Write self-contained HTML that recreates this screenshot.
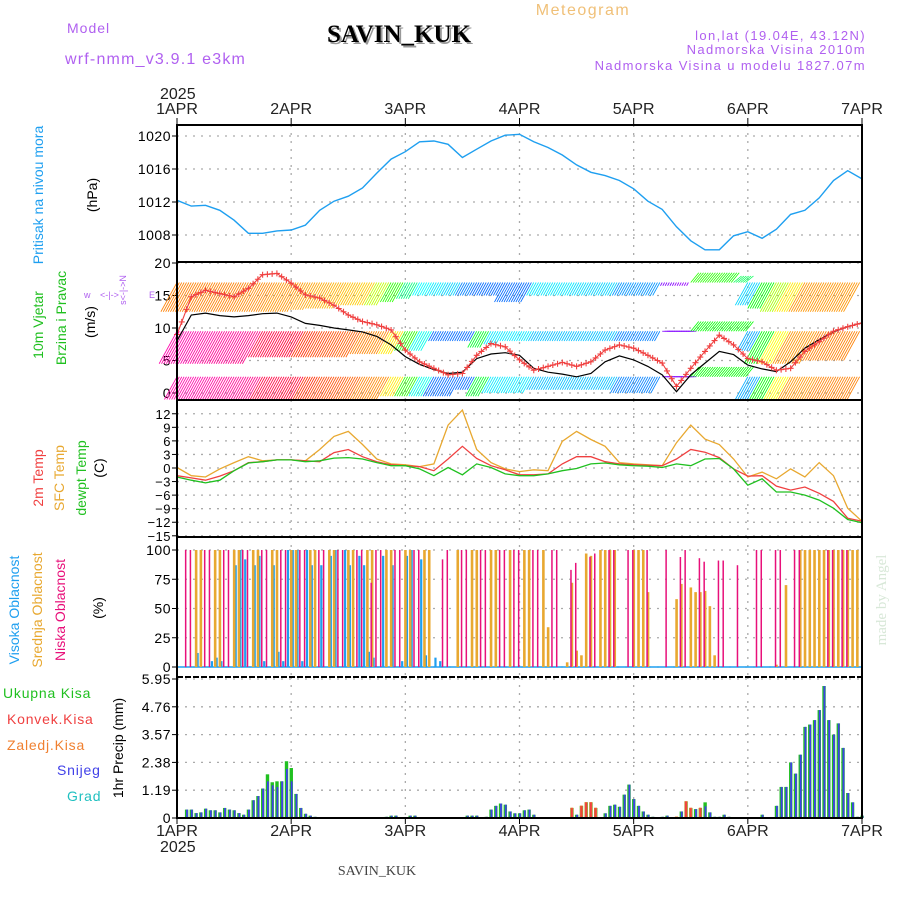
<!DOCTYPE html>
<html><head><meta charset="utf-8"><style>
body{margin:0;background:#fff;}
svg{display:block;font-family:"Liberation Sans",sans-serif;}
</style></head><body>
<svg id="chart" width="900" height="900" viewBox="0 0 900 900" xmlns="http://www.w3.org/2000/svg">
<text x="583" y="15" font-size="16" fill="#f0c078" text-anchor="middle" letter-spacing="1.5">Meteogram</text>
<text x="67" y="33" font-size="14" fill="#b060f0" letter-spacing="1">Model</text>
<text x="401" y="44" font-size="25" font-weight="bold" fill="#999" text-anchor="middle" font-family="Liberation Serif, serif">SAVIN_KUK</text>
<text x="399" y="42" font-size="25" font-weight="bold" fill="#000" text-anchor="middle" font-family="Liberation Serif, serif">SAVIN_KUK</text>
<text x="65" y="64" font-size="16" fill="#b060f0" letter-spacing="1.2">wrf-nmm_v3.9.1 e3km</text>
<text x="866" y="40" font-size="13" fill="#b060f0" text-anchor="end" letter-spacing="1.4">lon,lat (19.04E, 43.12N)</text>
<text x="866" y="54" font-size="13" fill="#b060f0" text-anchor="end" letter-spacing="1.4">Nadmorska Visina 2010m</text>
<text x="866" y="70" font-size="13" fill="#b060f0" text-anchor="end" letter-spacing="1.4">Nadmorska Visina u modelu 1827.07m</text>
<text x="160" y="99" font-size="16" fill="#222">2025</text>
<text x="160" y="852" font-size="16" fill="#222">2025</text>
<text x="377" y="875" font-size="14" fill="#444" text-anchor="middle" font-family="Liberation Serif, serif">SAVIN_KUK</text>
<text transform="translate(886,600) rotate(-90)" font-size="15" fill="#d8e8d8" text-anchor="middle" font-family="Liberation Serif, serif">made by Angel</text>
<text transform="translate(43,195) rotate(-90)" font-size="14" fill="#1e9ff0" text-anchor="middle">Pritisak na nivou mora</text>
<text transform="translate(97,195) rotate(-90)" font-size="14" fill="#000" text-anchor="middle">(hPa)</text>
<text transform="translate(43,325) rotate(-90)" font-size="14" fill="#20c020" text-anchor="middle">10m Vjetar</text>
<text transform="translate(66,318) rotate(-90)" font-size="14" fill="#20c020" text-anchor="middle">Brzina i Pravac</text>
<text transform="translate(95,322) rotate(-90)" font-size="14" fill="#000" text-anchor="middle">(m/s)</text>
<g fill="#b060f0" font-size="9">
<text x="84" y="298">w</text>
<text x="100" y="298">&lt;-|-&gt;</text>
<text x="149" y="298">E</text>
<text transform="translate(126,290) rotate(-90)" text-anchor="middle">s&lt;-|-&gt;N</text>
</g>
<text transform="translate(43,478) rotate(-90)" font-size="14" fill="#f04040" text-anchor="middle">2m Temp</text>
<text transform="translate(64,478) rotate(-90)" font-size="14" fill="#e8a830" text-anchor="middle">SFC Temp</text>
<text transform="translate(86,478) rotate(-90)" font-size="14" fill="#20c020" text-anchor="middle">dewpt Temp</text>
<text transform="translate(104,468) rotate(-90)" font-size="14" fill="#000" text-anchor="middle">(C)</text>
<text transform="translate(19,610) rotate(-90)" font-size="14" fill="#1e9ff0" text-anchor="middle">Visoka Oblacnost</text>
<text transform="translate(42,610) rotate(-90)" font-size="14" fill="#e8a830" text-anchor="middle">Srednja Oblacnost</text>
<text transform="translate(65,610) rotate(-90)" font-size="14" fill="#e8107a" text-anchor="middle">Niska Oblacnost</text>
<text transform="translate(103,608) rotate(-90)" font-size="14" fill="#000" text-anchor="middle">(%)</text>
<text x="3" y="698" font-size="14" fill="#20c020" letter-spacing="0.8">Ukupna  Kisa</text>
<text x="7" y="724" font-size="14" fill="#f04040" letter-spacing="0.8">Konvek.Kisa</text>
<text x="7" y="750" font-size="14" fill="#f08030" letter-spacing="0.8">Zaledj.Kisa</text>
<text x="57" y="775" font-size="14" fill="#4040e8" letter-spacing="0.8">Snijeg</text>
<text x="67" y="801" font-size="14" fill="#20c0c0" letter-spacing="0.8">Grad</text>
<text transform="translate(123,748) rotate(-90)" font-size="14" fill="#000" text-anchor="middle">1hr Precip (mm)</text>
<g id="plot"></g>
</svg>
<script>
const dayLabels = ["1APR","2APR","3APR","4APR","5APR","6APR","7APR"];
const pressTicks = [1020,1016,1012,1008];
const windTicks = [20,15,10,5,0];
const tempTicks = [12,9,6,3,0,-3,-6,-9,-12,-15];
const cloudTicks = [100,75,50,25,0];
const precipTicks = [5.95,4.76,3.57,2.38,1.19,0];
const pressure = [1012.2,1011.5,1011.6,1011,1009.8,1008.2,1008.2,1008.5,1008.6,1009.2,1011,1012.1,1012.7,1013.7,1015.5,1017.2,1018.1,1019.3,1019.4,1019,1017.4,1018.4,1019.4,1020.1,1020.2,1019.3,1018.6,1017.7,1016.5,1015.6,1015.2,1014.6,1013.6,1012.1,1011.1,1009,1007.3,1006.2,1006.2,1007.9,1008.4,1007.6,1008.7,1010.5,1011,1012.5,1014.6,1015.8,1014.8];
const windSpeed = [8,12.0,12.3,11.9,11.7,11.9,12.2,12.3,11.7,10.7,10.4,10.0,9.7,9.4,8.7,7.4,5.6,4.4,3.6,3.0,3.2,5.3,6.0,6.2,5.8,3.8,3.2,2.9,2.5,3.0,4.8,5.7,5.1,4.1,2.8,0.2,2.8,4.6,6.4,5.9,4.3,3.7,3.3,4.8,6.9,8.2,9.4,10.2,10.8];
const windGust = [9.0,14.8,15.8,15.3,14.8,16.1,18.2,18.4,16.9,15.1,14.6,13.5,12.0,11.0,10.5,9.7,6.6,4.8,3.8,2.8,3.0,5.8,7.6,7.1,5.1,3.5,4.1,4.7,4.1,4.8,6.6,7.4,6.9,5.8,4.6,1.0,3.8,6.4,8.9,7.4,5.3,4.8,3.5,3.8,6.4,7.9,9.5,10.2,10.8];
const rowAHue = [30,30,30,30,30,32,32,35,35,38,40,42,45,48,75,110,150,180,185,190,210,215,215,215,215,185,185,185,188,190,190,205,205,205,270,275,110,110,115,140,190,120,80,55,35,35,35,35,35];
const rowATip = [12.5,12.5,12.5,12.5,12.5,12.5,12.5,12.5,12.5,12.8,13,13,13.5,13.5,13.5,14,14.5,15,15,15,15,15,15,14,14,15,15,15,15,15,15,15,15,15,16.5,16.5,18.5,18.5,18.5,18,13.5,13,12.5,12.5,12.5,12.5,12.5,12.5,12.5];
const rowBHue = [320,320,322,325,325,328,345,345,348,10,15,18,22,30,32,55,110,175,215,215,215,130,185,185,185,195,195,195,195,195,195,210,210,210,270,270,120,120,120,120,200,120,60,35,35,30,30,30,30];
const rowBTip = [4.5,4.5,4.5,4.5,4.5,4.5,5.5,5.5,5.5,5.5,5.5,5.5,5.5,6,6,6,6.5,6.5,8,8,8,7,7.5,8,8,8,8,8,8,8,8,8,8,8,9.5,9.5,11,11,11,11,6.5,4.5,4.5,4.5,4.5,5,5,5,5];
const rowCTip = [-1,-1,-1,-1,-1,-1,-1,-1,-1,-1,-1,-1,-1,-1,-1,-0.5,-0.5,-0.5,-0.5,-0.5,0.5,-0.5,0,0,0,0.5,0.5,0.5,0.5,0.5,0.5,0,0,0,2.5,2.5,4,4,4,4,-1,-1,-1,-1,-1,-1,-1,-1,-1];
const temp2m = [-1.7,-2.2,-2.7,-1.8,-0.6,1.2,1.4,1.8,1.8,1.6,1.4,3.4,4.1,2.5,1.4,0.7,0.5,0.3,-0.6,2.0,4.8,2.1,0.5,-0.4,-1.5,-1.5,-1.3,0.9,2.5,2.5,1.4,0.9,0.7,0.6,0.5,2.0,4.1,3.5,2.3,-0.2,-1.8,-1.7,-4.0,-4.9,-4.2,-5.6,-7.4,-11.1,-11.8];
const tempSfc = [0.1,-1.7,-2.0,-0.2,1.2,2.5,1.6,1.8,1.8,1.6,4.1,7.0,8.1,5.2,2.0,0.9,0.7,0.3,0.9,9.5,12.8,4.1,1.2,-0.2,-0.8,-0.4,-0.6,5.9,8.1,6.3,4.8,1.2,0.9,0.7,0.5,5.6,9.5,6.4,5.2,2.0,-2.0,-0.9,-2.4,-0.2,-2.0,1.2,-1.7,-8.9,-11.8];
const dewpt = [-2.0,-2.7,-3.3,-2.7,-0.6,1.1,1.4,1.8,1.8,1.4,1.6,2.2,2.3,2.0,1.2,0.5,0.5,-0.2,-1.7,0.1,-1.5,0.9,0.1,-1.3,-1.7,-1.7,-1.3,-0.6,-0.1,0.9,1.1,0.7,0.5,0.4,0.1,0.9,0.5,2.0,2.1,-0.2,-3.8,-2.4,-5.3,-5.3,-6.0,-7.1,-8.9,-11.4,-12.1];
const cloudHigh = [0,0,0,0,12,0,0,5,8,5,0,0, 87,100,92,0,87,95,5,0,87,13,5,100, 100,100,5,100,87,0,87,0,95,100,0,100, 87,0,95,87,13,8,0,95,0,87,0,5, 95,100,0,92,10,0,8,5,0,0,0,0, 0,0,0,0,0,0,0,0,0,0,0,0, 0,0,0,0,0,0,0,0,0,0,0,0, 0,0,0,0,0,0,0,0,0,0,0,0, 0,0,0,0,0,0,0,0,0,0,0,0, 0,0,0,0,0,0,0,0,0,0,0,0, 0,0,0,0,0,0,0,0,0,0,0,0, 0,0,0,0,0,0,0,0,0,0,0,0, 0];
const cloudMid = [0,0,0,0,100,100,0,0,100,100,0,0, 100,100,0,0,100,100,0,0,100,100,0,0, 100,100,0,0,100,100,0,0,100,100,0,0, 100,100,0,0,100,100,0,0,100,100,0,0, 100,100,0,0,100,100,0,0,0,0,0,100, 0,0,100,100,0,0,100,100,0,0,100,0, 0,100,100,0,0,100,34,0,0,0,4,72, 14,10,97,95,0,100,100,100,100,0,0,0, 100,100,100,64,0,0,0,0,0,58,71,0, 68,64,64,65,52,10,0,0,0,0,0,0, 0,0,0,0,0,0,2,0,70,0,0,100, 100,100,100,100,100,100,100,100,100,100,100,100, 0];
const cloudLow = [0,0,100,100,0,0,100,100,0,0,100,100, 0,0,100,100,0,0,100,100,0,0,100,100, 0,0,100,100,0,0,100,100,0,0,100,100, 0,0,100,100,0,72,100,100,0,0,100,100, 0,0,100,100,0,0,0,0,92,100,0,0, 100,100,0,0,100,100,0,0,100,100,0,100, 100,0,0,100,100,0,0,100,100,0,0,83, 89,0,0,94,97,0,0,100,100,0,0,100, 100,0,0,100,0,0,0,100,0,0,94,100, 0,0,93,90,0,0,91,91,0,0,87,0, 0,0,100,100,0,0,100,100,0,0,100,100, 0,0,0,0,0,100,100,0,100,100,0,0, 0];
const precipTotal = [0,0,.36,.36,.21,.24,.40,.33,.33,.24,.43,.36, .33,.21,.14,.36,.76,.94,1.26,1.87,1.53,1.57,1.57,2.43, 2.14,1.03,.43,.18,.1,.05,0,0,0,0,0,0, 0,0,0,0,0,0,0,0,.05,.1,.1,0, 0,.1,.1,0,0,0,0,0,0,0,0,0, 0,.1,.1,.1,0,.05,.36,.52,.62,.57,.28,.2, .2,.33,.36,.14,0,0,0,0,0,0,0,.43, .14,.52,.67,.67,.43,0,.2,.52,.57,.48,1.0,1.43, .81,.52,.28,.14,.05,0,.05,.1,0,.05,.28,.71, .43,.38,.43,.67,.24,.05,.05,.14,.05,0,0,0, 0,0,0,.14,0,0,.52,1.33,1.33,2.38,1.9,2.71, 3.9,4.0,4.19,4.62,5.65,4.19,3.57,4.05,3.0,1.07,.67,.05, .1];
const precipSnow = [0,0,.36,.36,.21,.24,.40,.33,.33,.24,.43,.36, .33,.21,.14,.36,.76,.94,1.26,1.57,1.4,1.33,1.57,2.1, 1.57,1.03,.43,.18,.1,.05,0,0,0,0,0,0, 0,0,0,0,0,0,0,0,.05,.1,.1,0, 0,.1,.1,0,0,0,0,0,0,0,0,0, 0,.1,.1,.1,0,.05,.36,.52,.62,.57,.28,.2, .2,.33,.36,.14,0,0,0,0,0,0,0,0, .14,0,0,0,0,0,.2,.52,.57,.48,1.0,1.43, .81,.52,.28,.14,.05,0,.05,.1,0,0,.28,0, 0,.38,0,.5,.24,.05,.05,.14,.05,0,0,0, 0,0,0,.14,0,0,.52,1.33,1.33,2.38,1.9,2.71, 3.9,4.0,4.19,4.62,5.65,4.19,3.57,4.05,3.0,1.07,.67,.05, .1];
const precipConv = [0,0,0,0,0,0,0,0,0,0,0,0, 0,0,0,0,0,0,0,0,0,0,0,0, 0,0,0,0,0,0,0,0,0,0,0,0, 0,0,0,0,0,0,0,0,0,0,0,0, 0,0,0,0,0,0,0,0,0,0,0,0, 0,0,0,0,0,0,0,0,0,0,0,0, 0,0,0,0,0,0,0,0,0,0,0,.43, 0,.52,.67,.67,.43,0,0,0,0,0,0,0, 0,0,0,0,0,0,0,0,0,.05,0,.71, .43,0,.43,0,0,0,0,0,0,0,0,0, 0,0,0,0,0,0,0,0,0,0,0,0, 0,0,0,0,0,0,0,0,0,0,0,0, 0];

const X0=177, X1=862, HOURS=144;
function xh(h){return X0+(X1-X0)*h/HOURS;}
function pY(v){return 136+(1020-v)*8.25;}
function wY(v){return 393-v*6.5;}
function tY(v){return 468-v*4.52;}
function cY(v){return 667-v*1.17;}
function rY(v){return 818-v*23.36;}
const NS="http://www.w3.org/2000/svg";
const plot=document.getElementById('plot');
function mk(tag,attrs,parent){const e=document.createElementNS(NS,tag);for(const k in attrs)e.setAttribute(k,attrs[k]);(parent||plot).appendChild(e);return e;}
const panels=[{top:125,bot:262,ticks:pressTicks,f:pY,n:'pressure'},{top:262,bot:400,ticks:windTicks,f:wY,n:'wind'},{top:400,bot:537,ticks:tempTicks,f:tY,n:'temp'},{top:537,bot:677,ticks:cloudTicks,f:cY,n:'cloud'},{top:677,bot:818,ticks:precipTicks,f:rY,n:'precip'}];
const grid=mk('g',{stroke:'#aaa','stroke-width':1.3,'stroke-dasharray':'2,6'});


panels.forEach(p=>{
  p.ticks.forEach(t=>{const y=p.f(t);
    const l=mk('line',{x1:X0,x2:X1,y1:y,y2:y},grid);
    
    
    const tx=mk('text',{x:171,y:y+5,'font-size':p.n==='temp'?13:14,'text-anchor':'end',fill:'#000','letter-spacing':'0.5'});
    tx.textContent=(p.n==='temp'&&t<0)?('\u2212'+(-t)):String(t);
    
    
    const tk=mk('line',{x1:172,x2:177,y1:y,y2:y,stroke:'#000'});
    
    
  });
  for(let d=1;d<6;d++){const l=mk('line',{x1:xh(d*24),x2:xh(d*24),y1:p.top,y2:p.bot},grid);
    
    }
});
dayLabels.forEach((d,i)=>{
  const x=xh(i*24);
  const a=mk('text',{x:x,y:114,'font-size':16,'text-anchor':'middle',fill:'#222'});a.textContent=d;
  
  
  const b=mk('text',{x:x,y:836,'font-size':16,'text-anchor':'middle',fill:'#222'});b.textContent=d;
  
  
  mk('line',{x1:x,x2:x,y1:118,y2:125,stroke:'#000'});
  mk('line',{x1:x,x2:x,y1:818,y2:824,stroke:'#000'});
});
function poly(vals,f,color,w){
  const pts=vals.map((v,k)=>xh(k*3).toFixed(1)+','+f(v).toFixed(1)).join(' ');
  return mk('polyline',{points:pts,fill:'none',stroke:color,'stroke-width':w||1.3});
}
const pl=poly(pressure,pY,'#1e9ff0',1.4);


const rows=[{base:17,hue:rowAHue,tip:rowATip,n:'wind-row-upper'},{base:9.5,hue:rowBHue,tip:rowBTip,n:'wind-row-middle'},{base:2.5,hue:rowBHue,tip:rowCTip,n:'wind-row-lower'}];
rows.forEach(r=>{
  const g=mk('g',{'stroke-width':0.8});
  
  
  for(let k=0;k<48;k++){
    for(let s=0;s<6;s++){
      const h=k*3+s*0.5;
      const x=xh(h), y0=wY(r.base), y1=wY(r.tip[k]);
      const dy=y1-y0;
      const dx=dy>0?-dy*0.55:Math.max(-dy*0.8,8);
      mk('line',{x1:x,y1:y0,x2:x+dx,y2:y1,stroke:'hsl('+r.hue[k]+',100%,50%)'},g);
    }
  }
});
const ws=poly(windSpeed,wY,'#000',1.2);


const wg=poly(windGust,wY,'#f04040',1.1);


const gm=mk('g',{stroke:'#f04040','stroke-width':1.1});


for(let k=0;k<48;k++){for(let s=0;s<3;s++){
  const v=windGust[k]+(windGust[k+1]-windGust[k])*s/3;
  const x=xh(k*3+s), y=wY(v);
  mk('path',{d:'M'+(x-3)+' '+y+'h6M'+x+' '+(y-3)+'v6'},gm);
}}
const tS=poly(tempSfc,tY,'#e8a830',1.3);


const tR=poly(temp2m,tY,'#f04040',1.3);


const tD=poly(dewpt,tY,'#20c020',1.3);


const cg=mk('g',{});


mk('line',{x1:X0,x2:X1,y1:cY(0),y2:cY(0),stroke:'#1e9ff0','stroke-width':1.5},cg);
for(let h=0;h<=HOURS;h++){
  const x=xh(h);
  if(cloudHigh[h]>0){const b=mk('rect',{x:x+0.5,y:cY(cloudHigh[h]),width:2.2,height:cY(0)-cY(cloudHigh[h]),fill:'#1e9ff0'},cg);
    
    }
  if(cloudMid[h]>0){const b=mk('rect',{x:x-1.2,y:cY(cloudMid[h]),width:2.6,height:cY(0)-cY(cloudMid[h]),fill:'#e8a830'},cg);
    
    }
  if(cloudLow[h]>0){const b=mk('rect',{x:x-1.6,y:cY(cloudLow[h]),width:1.5,height:cY(0)-cY(cloudLow[h]),fill:'#e8107a'},cg);
    
    }
}
const pg=mk('g',{});


for(let h=0;h<=HOURS;h++){
  const x=xh(h);
  if(precipTotal[h]>0){const b=mk('rect',{x:x-1.6,y:rY(precipTotal[h]),width:3.4,height:rY(0)-rY(precipTotal[h]),fill:'#20c020'},pg);
    
    }
  if(precipConv[h]>0){const b=mk('rect',{x:x-1.2,y:rY(precipConv[h]),width:2.4,height:rY(0)-rY(precipConv[h]),fill:'#f04040',stroke:'#f08030','stroke-width':0.5},pg);
    
    }
  if(precipSnow[h]>0){const b=mk('rect',{x:x-0.4,y:rY(precipSnow[h]),width:1.8,height:rY(0)-rY(precipSnow[h]),fill:'#4040e8'},pg);
    
    }
}
const fr=mk('g',{stroke:'#000',fill:'none'});


mk('rect',{x:X0,y:125,width:X1-X0,height:818-125,'stroke-width':2},fr);
[262,400,537].forEach(y=>mk('line',{x1:X0,x2:X1,y1:y,y2:y,'stroke-width':2},fr));
mk('line',{x1:X0,x2:X1,y1:677,y2:677,'stroke-width':2,'stroke-dasharray':'6,2'},fr);
mk('line',{x1:X0,x2:X1,y1:818,y2:818,'stroke-width':2,'stroke-dasharray':'6,2'},fr);
</script>
</body></html>
